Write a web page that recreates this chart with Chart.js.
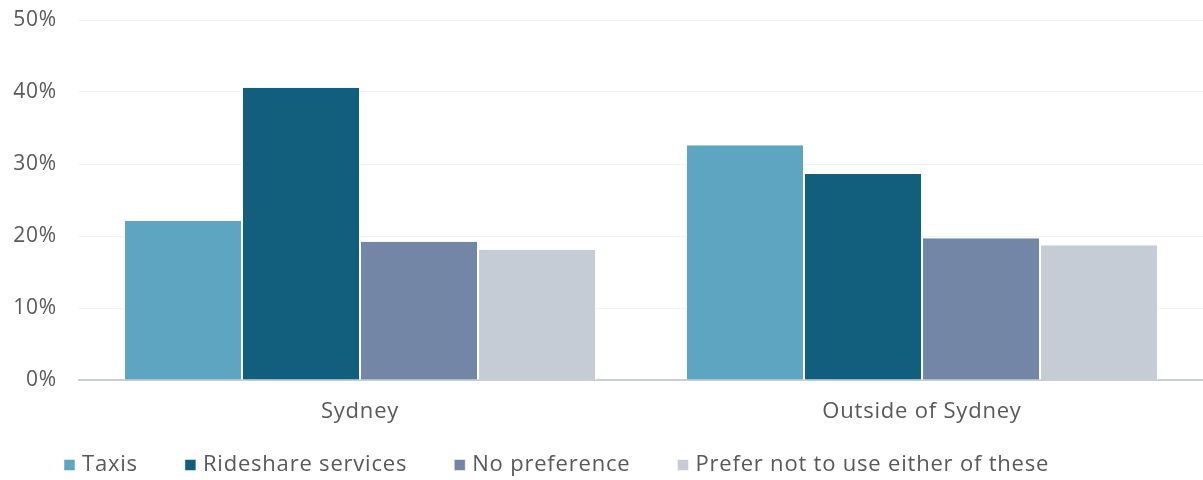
<!DOCTYPE html>
<html>
<head>
<meta charset="utf-8">
<script src="https://cdn.jsdelivr.net/npm/chart.js@4"></script>
<style>
  html, body { margin: 0; padding: 0; background: #fff; }
  #wrap { width: 1203px; height: 480px; }
</style>
</head>
<body>
<div id="wrap"><canvas id="chart" width="1203" height="480"></canvas></div>
<script>
const categories = ["Sydney", "Outside of Sydney"];
const seriesNames = ["Taxis", "Rideshare services", "No preference", "Prefer not to use either of these"];
const taxis = [22.1, 32.6];
const rideshare = [40.6, 28.6];
const noPreference = [19.2, 19.7];
const preferNeither = [18.1, 18.7];
const colors = ["#5ea5c1", "#115f7d", "#7386a5", "#c5ccd6"];

const FONT = "'Open Sans', Lato, sans-serif";
const TEXT = "#595959";

// the original typeface is wide, so space the letters a bit,
// and nudge the legend to where it sits in the original
const tweaks = {
  id: "tweaks",
  beforeLayout(chart) { chart.ctx.letterSpacing = "0.8px"; },
  afterLayout(chart) {
    chart.legend.left += 17;
    chart.legend.top -= 23;
  },
  beforeDraw(chart) { chart.ctx.letterSpacing = "0.8px"; },
};

const values = [taxis, rideshare, noPreference, preferNeither];
const datasets = seriesNames.map((name, i) => ({
  label: name,
  data: values[i],
  backgroundColor: colors[i],
  borderColor: "#ffffff",
  borderWidth: { left: 1, right: 1, top: 0, bottom: 0 },
  borderSkipped: "bottom",
  categoryPercentage: 0.84,
  barPercentage: 1.0,
}));

new Chart(document.getElementById("chart").getContext("2d"), {
  type: "bar",
  data: { labels: categories, datasets },
  plugins: [tweaks],
  options: {
    responsive: false,
    animation: false,
    devicePixelRatio: 1,
    layout: { padding: 0 },
    scales: {
      x: {
        grid: { display: false, drawTicks: false },
        border: { display: true, color: "#c8ced8", width: 2 },
        ticks: { color: TEXT, font: { family: FONT, size: 22 }, padding: 19 },
        afterFit: (scale) => { scale.height = 46; },
      },
      y: {
        min: 0,
        max: 50,
        ticks: {
          stepSize: 10,
          color: TEXT,
          font: { family: FONT, size: 21 },
          padding: 22,
          callback: (v) => v + "%",
        },
        grid: { color: "#f3f3f3", drawTicks: false },
        border: { display: false },
        afterFit: (scale) => {
          scale.width = 79;
          scale.paddingTop = 20;
          scale.paddingBottom = 0;
        },
      },
    },
    plugins: {
      legend: {
        position: "bottom",
        align: "start",
        maxHeight: 54,
        labels: {
          color: TEXT,
          font: { family: FONT, size: 22 },
          usePointStyle: true,
          pointStyle: "rect",
          boxWidth: 3,
          boxHeight: 11,
          padding: 51,
        },
      },
      tooltip: { enabled: false },
    },
  },
});
</script>
</body>
</html>
